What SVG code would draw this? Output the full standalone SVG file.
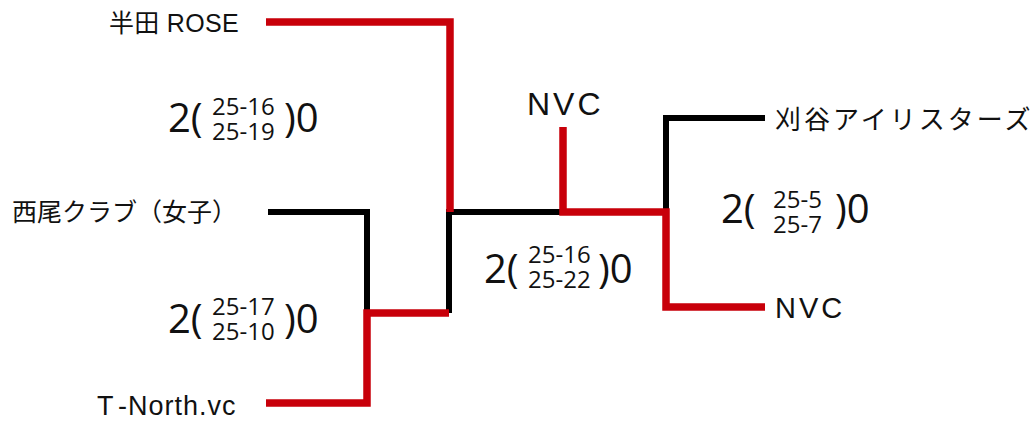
<svg xmlns="http://www.w3.org/2000/svg" width="1036" height="421" viewBox="0 0 1036 421">
<style>
.team{font-family:"Liberation Sans","Noto Sans CJK JP",sans-serif;font-size:25px;fill:#111}
.big{font-family:"Open Sans","Noto Sans",sans-serif;font-size:40px;fill:#111}
.small{font-family:"Open Sans","Noto Sans",sans-serif;font-size:24px;fill:#111}
.red{fill:none;stroke:#c8000a;stroke-width:7.5;stroke-linejoin:miter;stroke-linecap:butt}
.blk{fill:none;stroke:#000;stroke-width:6;stroke-linejoin:miter;stroke-linecap:butt}
</style>
<rect width="1036" height="421" fill="#fff"/>
<g id="connectors">
<path class="blk" d="M268,212 H367 V313"/>
<path class="blk" d="M449,313 V212 H563"/>
<path class="blk" d="M666,212 V118 H765"/>
<path class="red" d="M266,22 H450 V212"/>
<path class="red" d="M266,403 H367 V313 H449"/>
<path class="red" d="M563,127 V212 H666 V307 H765"/>
</g>
<g id="team-handa"><text class="team" x="109" y="32" letter-spacing="0.3">半田 ROSE</text></g>
<g id="team-nishio"><text class="team" x="12" y="221">西尾クラブ（女子）</text></g>
<g id="team-tnorth"><text class="team" x="97" y="415" style="font-size:27px" letter-spacing="1">T<tspan dx="5">-North.vc</tspan></text></g>
<g id="team-kariya"><text class="team" x="775" y="129" style="font-size:26px" letter-spacing="3">刈谷アイリスターズ</text></g>
<g id="team-nvc"><text class="team" x="775" y="318" style="font-size:29px" letter-spacing="3">NVC</text></g>
<g id="winner"><text class="team" x="527" y="115" style="font-size:32px" letter-spacing="3">NVC</text></g>
<g id="score1">
<text class="big" x="168" y="132">2(</text>
<text class="small" x="212" y="115">25-16<tspan x="212" dy="25">25-19</tspan></text>
<text class="big" x="284" y="132">)0</text>
</g>
<g id="score2">
<text class="big" x="484" y="283">2(</text>
<text class="small" x="528" y="263">25-16<tspan x="528" dy="25">25-22</tspan></text>
<text class="big" x="598" y="283">)0</text>
</g>
<g id="score3">
<text class="big" x="168" y="333">2(</text>
<text class="small" x="212" y="315">25-17<tspan x="212" dy="25">25-10</tspan></text>
<text class="big" x="284" y="333">)0</text>
</g>
<g id="score4">
<text class="big" x="721" y="223">2(</text>
<text class="small" x="773" y="208">25-5<tspan x="773" dy="25">25-7</tspan></text>
<text class="big" x="835" y="223">)0</text>
</g>
</svg>
